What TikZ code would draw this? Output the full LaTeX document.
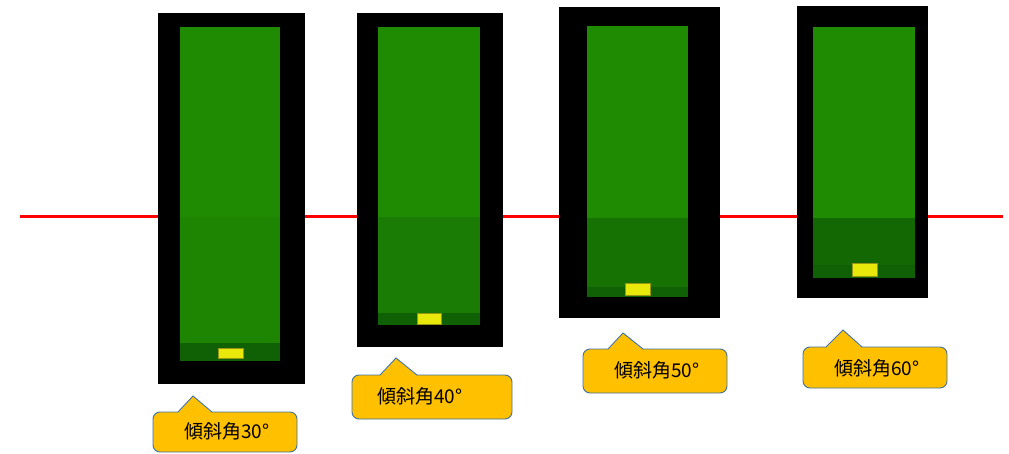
\documentclass[tikz,border=0pt]{standalone}
\usepackage{fontspec}
\setmainfont{Noto Sans CJK JP}
\begin{document}
\begin{tikzpicture}[x=1pt,y=-1pt,
  redline/.style={draw=red,line width=3pt},
  frame/.style={fill=black},
  greenup/.style={fill=green1},
  band/.style={fill=bandgreen},
  chip/.style={fill=chipyellow,draw=chipedge,line width=0.8pt},
  callout/.style={fill=calloutfill,draw=calloutedge,line width=0.9pt,rounded corners=7pt},
  tip/.style={fill=calloutfill},
  tipedge/.style={draw=calloutedge,line width=0.9pt},
  lbl/.style={font=\fontsize{19}{22}\selectfont,inner sep=0pt,anchor=center}]
\definecolor{green1}{RGB}{31,139,2}
\definecolor{bandgreen}{RGB}{16,96,6}
\definecolor{chipyellow}{RGB}{232,232,10}
\definecolor{chipedge}{RGB}{150,150,20}
\definecolor{calloutfill}{RGB}{255,192,0}
\definecolor{calloutedge}{RGB}{65,113,156}
\definecolor{w1}{RGB}{29,133,2}
\definecolor{w2}{RGB}{26,124,4}
\definecolor{w3}{RGB}{23,114,4}
\definecolor{w4}{RGB}{20,104,4}
\useasboundingbox (0,0) rectangle (1009,454);
% water line
\coordinate (L0) at (20,217);
\coordinate (L1) at (1003,217);
\draw[redline] (L0) -- (L1);
% Panel 1
\fill[frame] (158,13) rectangle (305,384);
\fill[greenup] (180,27) rectangle (280,217);
\fill[w1] (180,217) rectangle (280,361);
\fill[band] (180,343) rectangle (280,361);
\filldraw[chip] (218,348) rectangle (243,358);
% Panel 2
\fill[frame] (357,13) rectangle (503,347);
\fill[greenup] (378,27) rectangle (480,217);
\fill[w2] (378,217) rectangle (480,325);
\fill[band] (378,313) rectangle (480,325);
\filldraw[chip] (417,313) rectangle (441,324);
% Panel 3
\fill[frame] (559,7) rectangle (720,318);
\fill[greenup] (587,26) rectangle (688,218);
\fill[w3] (587,218) rectangle (688,297);
\fill[band] (587,287) rectangle (688,297);
\filldraw[chip] (625,283) rectangle (650,295);
% Panel 4
\fill[frame] (797,6) rectangle (928,298);
\fill[greenup] (813,27) rectangle (915,218);
\fill[w4] (813,218) rectangle (915,278);
\fill[band] (813,265) rectangle (915,278);
\filldraw[chip] (852,263) rectangle (877,276);
% callout 1
\filldraw[callout] (153,412) rectangle (297,452);
\fill[tip] (178,413) -- (193,396) -- (212,413) -- cycle;
\draw[tipedge] (178,412) -- (193,396) -- (212,412);
\node[lbl] (c1) at (227,431) {傾斜角30°};
% callout 2
\filldraw[callout] (352,375) rectangle (512,419);
\fill[tip] (380,376) -- (396,358) -- (417,376) -- cycle;
\draw[tipedge] (380,375) -- (396,358) -- (417,375);
\node[lbl] (c2) at (420,396) {傾斜角40°};
% callout 3
\filldraw[callout] (583,349) rectangle (727,393);
\fill[tip] (608,350) -- (623,333) -- (643,350) -- cycle;
\draw[tipedge] (608,349) -- (623,333) -- (643,349);
\node[lbl] (c3) at (657,370) {傾斜角50°};
% callout 4
\filldraw[callout] (803,347) rectangle (947,388);
\fill[tip] (826,348) -- (843,330) -- (862,348) -- cycle;
\draw[tipedge] (826,347) -- (843,330) -- (862,347);
\node[lbl] (c4) at (877,368) {傾斜角60°};
\end{tikzpicture}
\end{document}
